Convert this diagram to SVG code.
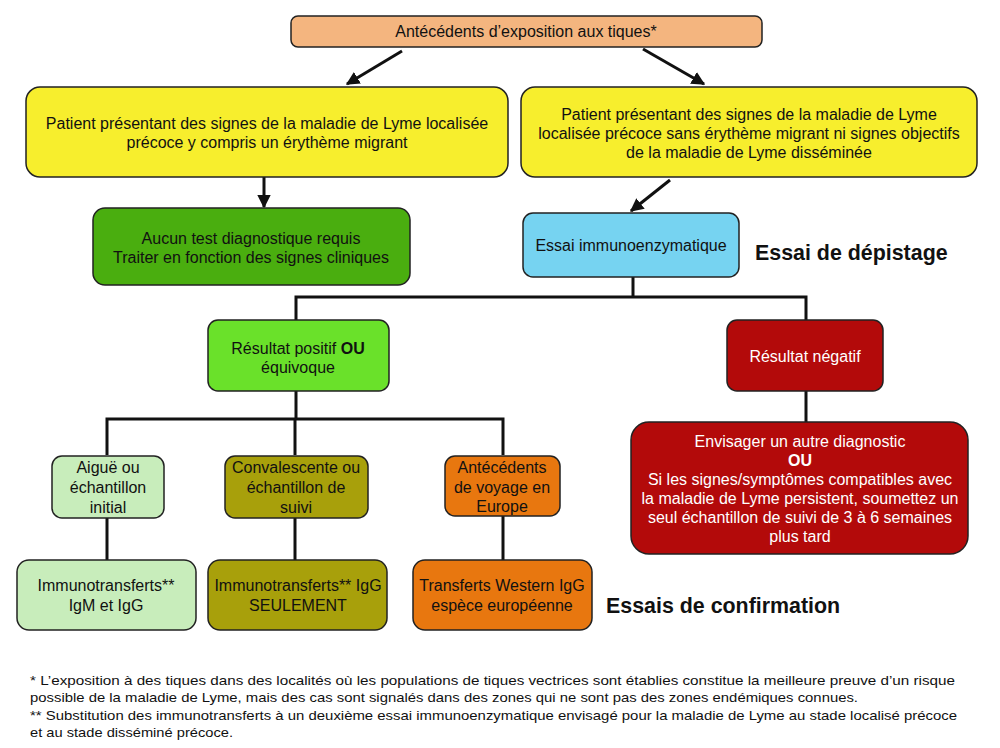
<svg xmlns="http://www.w3.org/2000/svg" width="1000" height="748" viewBox="0 0 1000 748">
<defs>
<style>
.box{stroke:#222;stroke-width:1.5}
.t{font-family:"Liberation Sans",Arial,sans-serif;font-size:16px;fill:#111;text-anchor:middle}
.w{fill:#fff}
.h{font-family:"Liberation Sans",Arial,sans-serif;font-size:21.4px;font-weight:bold;fill:#111}
.f{font-family:"Liberation Sans",Arial,sans-serif;font-size:13.5px;fill:#111}
.c{stroke:#111;stroke-width:3;fill:none}
</style>
<marker id="ah" viewBox="0 0 10 10" refX="9" refY="5" markerWidth="4.5" markerHeight="4.5" orient="auto" markerUnits="strokeWidth">
<path d="M0,0 L10,5 L0,10 z" fill="#111"/>
</marker>
</defs>
<rect width="1000" height="748" fill="#fff"/>
<g id="connectors">
<line class="c" x1="402" y1="51" x2="347" y2="84" marker-end="url(#ah)"/>
<line class="c" x1="643" y1="49" x2="704" y2="84" marker-end="url(#ah)"/>
<line class="c" x1="264" y1="177" x2="264" y2="207" marker-end="url(#ah)"/>
<line class="c" x1="670" y1="180" x2="631" y2="211" marker-end="url(#ah)"/>
<polyline class="c" points="633,277 633,297"/>
<polyline class="c" points="296,320 296,297 806,297 806,320"/>
<polyline class="c" points="296,391 296,419"/>
<polyline class="c" points="107,455 107,419 503,419 503,455"/>
<line class="c" x1="295" y1="419" x2="295" y2="455"/>
<line class="c" x1="806" y1="391" x2="806" y2="422"/>
<line class="c" x1="107" y1="518" x2="107" y2="560"/>
<line class="c" x1="295" y1="518" x2="295" y2="560"/>
<line class="c" x1="503" y1="516" x2="503" y2="560"/>
</g>
<g id="n-top">
<rect class="box" x="291" y="16" width="471" height="31" rx="7" fill="#f4b57f"/>
<text class="t" x="526" y="37">Antécédents d’exposition aux tiques*</text>
</g>
<g id="n-left">
<rect class="box" x="26" y="87" width="482" height="90" rx="14" fill="#f7ee2d"/>
<text class="t" x="267" y="129">Patient présentant des signes de la maladie de Lyme localisée</text>
<text class="t" x="267" y="148">précoce y compris un érythème migrant</text>
</g>
<g id="n-right">
<rect class="box" x="521" y="87" width="456" height="90" rx="14" fill="#f7ee2d"/>
<text class="t" x="749" y="120">Patient présentant des signes de la maladie de Lyme</text>
<text class="t" x="749" y="139">localisée précoce sans érythème migrant ni signes objectifs</text>
<text class="t" x="749" y="158">de la maladie de Lyme disséminée</text>
</g>
<g id="n-notest">
<rect class="box" x="93" y="208" width="317" height="77" rx="12" fill="#4aae0f"/>
<text class="t" x="251" y="244">Aucun test diagnostique requis</text>
<text class="t" x="251" y="263">Traiter en fonction des signes cliniques</text>
</g>
<g id="n-eia">
<rect class="box" x="523" y="213" width="216" height="64" rx="10" fill="#76d3f1"/>
<text class="t" x="631" y="251">Essai immunoenzymatique</text>
</g>
<text id="lbl-depistage" class="h" x="755" y="260">Essai de dépistage</text>
<g id="n-pos">
<rect class="box" x="208" y="320" width="181" height="71" rx="10" fill="#6ae12a"/>
<text class="t" x="298" y="354">Résultat positif <tspan font-weight="bold">OU</tspan></text>
<text class="t" x="298" y="373">équivoque</text>
</g>
<g id="n-neg">
<rect class="box" x="727" y="320" width="156" height="71" rx="10" fill="#b30a0a"/>
<text class="t w" x="805" y="362">Résultat négatif</text>
</g>
<g id="n-other">
<rect class="box" x="631" y="422" width="337" height="132" rx="18" fill="#b30a0a"/>
<text class="t w" x="800" y="447">Envisager un autre diagnostic</text>
<text class="t w" x="800" y="466" font-weight="bold">OU</text>
<text class="t w" x="800" y="485">Si les signes/symptômes compatibles avec</text>
<text class="t w" x="800" y="504">la maladie de Lyme persistent, soumettez un</text>
<text class="t w" x="800" y="523">seul échantillon de suivi de 3 à 6 semaines</text>
<text class="t w" x="800" y="542">plus tard</text>
</g>
<g id="n-acute">
<rect class="box" x="52" y="456" width="112" height="62" rx="10" fill="#c8edbb"/>
<text class="t" x="108" y="473">Aiguë ou</text>
<text class="t" x="108" y="493">échantillon</text>
<text class="t" x="108" y="513">initial</text>
</g>
<g id="n-conv">
<rect class="box" x="225" y="456" width="143" height="62" rx="10" fill="#a8a00b"/>
<text class="t" x="296" y="473">Convalescente ou</text>
<text class="t" x="296" y="493">échantillon de</text>
<text class="t" x="296" y="513">suivi</text>
</g>
<g id="n-travel">
<rect class="box" x="445" y="456" width="115" height="60" rx="10" fill="#e8770f"/>
<text class="t" x="502" y="473">Antécédents</text>
<text class="t" x="502" y="493">de voyage en</text>
<text class="t" x="502" y="512">Europe</text>
</g>
<g id="n-igm">
<rect class="box" x="17" y="560" width="179" height="70" rx="12" fill="#c8edbb"/>
<text class="t" x="106" y="591">Immunotransferts**</text>
<text class="t" x="106" y="611">IgM et IgG</text>
</g>
<g id="n-igg">
<rect class="box" x="208" y="560" width="179" height="70" rx="12" fill="#a8a00b"/>
<text class="t" x="298" y="591">Immunotransferts** IgG</text>
<text class="t" x="298" y="611">SEULEMENT</text>
</g>
<g id="n-wb">
<rect class="box" x="413" y="560" width="179" height="70" rx="12" fill="#e8770f"/>
<text class="t" x="502" y="591">Transferts Western IgG</text>
<text class="t" x="502" y="611">espèce européenne</text>
</g>
<text id="lbl-confirmation" class="h" x="606" y="613">Essais de confirmation</text>
<g id="footnotes">
<text class="f" x="30" y="685" textLength="925" lengthAdjust="spacingAndGlyphs">* L’exposition à des tiques dans des localités où les populations de tiques vectrices sont établies constitue la meilleure preuve d’un risque</text>
<text class="f" x="30" y="702" textLength="828" lengthAdjust="spacingAndGlyphs">possible de la maladie de Lyme, mais des cas sont signalés dans des zones qui ne sont pas des zones endémiques connues.</text>
<text class="f" x="30" y="720" textLength="927" lengthAdjust="spacingAndGlyphs">** Substitution des immunotransferts à un deuxième essai immunoenzymatique envisagé pour la maladie de Lyme au stade localisé précoce</text>
<text class="f" x="30" y="737" textLength="203" lengthAdjust="spacingAndGlyphs">et au stade disséminé précoce.</text>
</g>
</svg>
